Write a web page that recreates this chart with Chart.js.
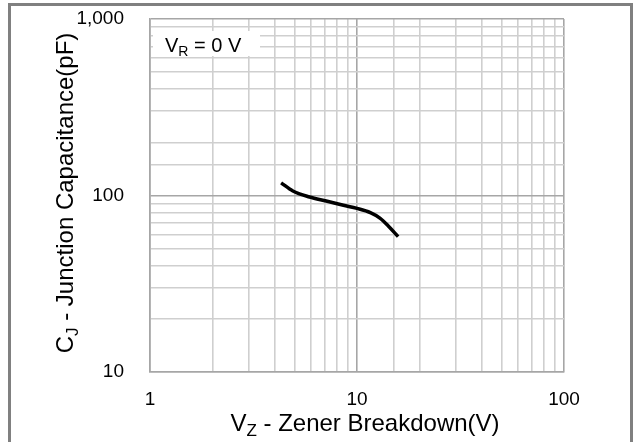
<!DOCTYPE html>
<html>
<head>
<meta charset="utf-8">
<script src="https://cdn.jsdelivr.net/npm/chart.js@4.4.1/dist/chart.umd.min.js"></script>
<style>
  html, body { margin:0; padding:0; background:#fff; }
  #wrap { width:634px; height:442px; position:relative; }
</style>
</head>
<body>
<div id="wrap"><canvas id="chart" width="634" height="442"></canvas></div>
<script>
// ---------- data ----------
const vz = [4.3, 4.9, 5.9, 7.1, 8.6, 10.0, 11.6, 12.9, 14.2, 15.8];   // V
const cj = [118, 106, 98, 93, 88, 84.5, 80, 74.5, 67, 58.5];          // pF
const xMajor = [1, 10, 100];
const yMajor = [10, 100, 1000];
const noteText = ['V', 'R', ' = 0 V'];
const xTitle = ['V', 'Z', ' - Zener Breakdown(V)'];
const yTitle = ['C', 'J', ' - Junction Capacitance(pF)'];

const FONT = '"Liberation Sans", Arial, sans-serif';
const isMajor = v => Math.abs(Math.log10(v) - Math.round(Math.log10(v))) < 1e-6;

// text with subscript helper: parts = [main, sub, rest]
function drawSub(ctx, parts, x, y, size, align){
  ctx.font = size + 'px ' + FONT;
  const w0 = ctx.measureText(parts[0]).width;
  ctx.font = Math.round(size*0.72) + 'px ' + FONT;
  const w1 = ctx.measureText(parts[1]).width;
  ctx.font = size + 'px ' + FONT;
  const w2 = ctx.measureText(parts[2]).width;
  let sx = x;
  if(align === 'center') sx = x - (w0+w1+w2)/2;
  ctx.textAlign = 'left';
  ctx.textBaseline = 'alphabetic';
  ctx.fillText(parts[0], sx, y);
  ctx.font = Math.round(size*0.72) + 'px ' + FONT;
  ctx.fillText(parts[1], sx + w0, y + size*0.22);
  ctx.font = size + 'px ' + FONT;
  ctx.fillText(parts[2], sx + w0 + w1, y);
}

const decor = {
  id:'decor',
  beforeDraw(chart){
    const ctx = chart.ctx;
    ctx.save();
    ctx.fillStyle = '#fff';
    ctx.fillRect(0,0,chart.width,chart.height);
    ctx.fillStyle = '#808080';
    ctx.fillRect(8, 3, 625, 3);    // top frame
    ctx.fillRect(8, 3, 3, 439);    // left frame
    ctx.fillRect(630, 3, 3, 439);  // right frame
    ctx.restore();
  },
  afterDatasetsDraw(chart){
    const ctx = chart.ctx;
    const a = chart.chartArea;
    ctx.save();
    // note box
    ctx.fillStyle = '#fff';
    ctx.fillRect(a.left + 3, a.top + 12, 107, 25);
    ctx.fillStyle = '#000';
    drawSub(ctx, noteText, a.left + 15, a.top + 33, 20, 'left');
    // axis titles
    drawSub(ctx, xTitle, 365, 431, 24, 'center');
    ctx.translate(73, 193);
    ctx.rotate(-Math.PI/2);
    drawSub(ctx, yTitle, 0, 0, 24, 'center');
    ctx.restore();
  }
};

new Chart(document.getElementById('chart'), {
  type:'line',
  data:{
    datasets:[{
      data: vz.map((x,i)=>({x:x, y:cj[i]})),
      borderColor:'#000',
      borderWidth:3.5,
      pointRadius:0,
      cubicInterpolationMode:'monotone',
      fill:false
    }]
  },
  options:{
    responsive:false,
    animation:false,
    devicePixelRatio:1,
    layout:{ padding:{ left:0, top:19, right:70, bottom:0 } },
    plugins:{ legend:{display:false}, tooltip:{enabled:false} },
    scales:{
      x:{
        type:'logarithmic', min:1, max:100,
        afterFit: s => { s.height = 70; s.paddingLeft = 0; s.paddingRight = 0; },
        afterBuildTicks: s => { s.ticks = s.ticks.filter(t => t.value >= 1 && t.value <= 100); },
        grid:{
          drawTicks:false,
          color: c => c.tick && isMajor(c.tick.value) ? '#a6a6a6' : '#cfcfcf',
          lineWidth: 1.6
        },
        border:{ display:true, color:'#a6a6a6', width:1.6 },
        ticks:{
          autoSkip:false, maxRotation:0, padding:16, color:'#000',
          font:{ family:FONT, size:19 },
          callback: v => xMajor.includes(v) ? String(v) : ''
        }
      },
      y:{
        type:'logarithmic', min:10, max:1000,
        afterFit: s => { s.width = 150; s.paddingTop = 0; s.paddingBottom = 0; },
        grid:{
          drawTicks:false,
          color: c => c.tick && isMajor(c.tick.value) ? '#a6a6a6' : '#cfcfcf',
          lineWidth: 1.6
        },
        border:{ display:true, color:'#a6a6a6', width:1.6 },
        ticks:{
          autoSkip:false, padding:26, color:'#000',
          font:{ family:FONT, size:19 },
          callback: v => yMajor.includes(v) ? v.toLocaleString('en-US') : ''
        }
      }
    }
  },
  plugins:[decor]
});
</script>
</body>
</html>
